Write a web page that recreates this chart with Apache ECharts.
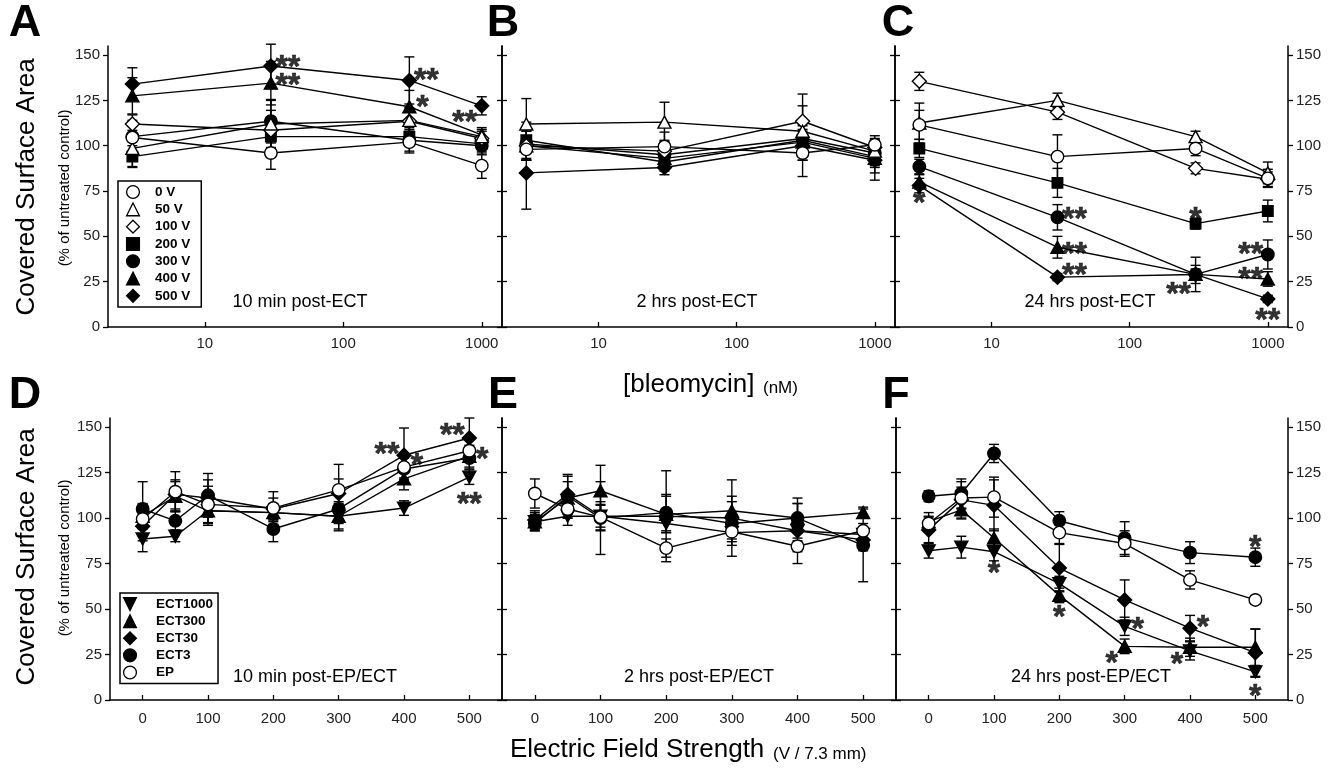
<!DOCTYPE html>
<html><head><meta charset="utf-8">
<script src="https://cdn.jsdelivr.net/npm/echarts@6/dist/echarts.min.js"></script>
<style>html,body{margin:0;padding:0;background:#fff}#c{width:1335px;height:769px}</style>
</head><body><div id="c"></div>
<script>
// ---------- categories / ticks ----------
const concentrations = [3, 30, 300, 1000];          // bleomycin nM
const voltages = [0, 50, 100, 200, 300, 400, 500];   // V / 7.3 mm
const yTicks = [0, 25, 50, 75, 100, 125, 150];
const concTicks = [10, 100, 1000];
const voltTicks = [0, 100, 200, 300, 400, 500];
const topNames = ['0 V', '50 V', '100 V', '200 V', '300 V', '400 V', '500 V'];
const bottomNames = ['ECT1000', 'ECT300', 'ECT30', 'ECT3', 'EP'];

// ---------- Panel A: 10 min post-ECT ----------
const A_0V   = [104.5, 96, 102, 89];
const A_50V  = [98.5, 112, 114, 105];
const A_100V = [112, 108.5, 113.5, 104];
const A_200V = [94, 105, 105, 101];
const A_300V = [105, 113.5, 103, 100];
const A_400V = [127.5, 134.5, 121.5, 106];
const A_500V = [134, 144, 136, 122];
const A_0V_err   = [8, 9, 6, 7];
const A_50V_err  = [10, 13, 7, 4];
const A_100V_err = [5, 11, 6, 4];
const A_200V_err = [6, 7, 5, 4];
const A_300V_err = [9, 12, 6, 5];
const A_400V_err = [10, 12, 9, 4];
const A_500V_err = [9, 12, 13, 5];

// ---------- Panel B: 2 hrs post-ECT ----------
const B_0V   = [98, 99.5, 96, 100.5];
const B_50V  = [112, 113, 108, 97];
const B_100V = [100, 97, 113.5, 99];
const B_200V = [103, 91, 103, 94];
const B_300V = [101, 95, 104, 96];
const B_400V = [100, 93, 102, 93];
const B_500V = [85, 88, 100, 92];
const B_0V_err   = [6, 8, 13, 5];
const B_50V_err  = [14, 11, 14, 6];
const B_100V_err = [8, 6, 15, 5];
const B_200V_err = [10, 5, 8, 6];
const B_300V_err = [9, 7, 9, 7];
const B_400V_err = [8, 5, 10, 8];
const B_500V_err = [20, 4, 8, 11];

// ---------- Panel C: 24 hrs post-ECT ----------
const C_0V   = [111.5, 94, 98.5, 82];
const C_50V  = [112.5, 125, 105, 85];
const C_100V = [135.5, 118.5, 87.5, 81.5];
const C_200V = [98.5, 79.5, 57, 64];
const C_300V = [88.5, 60.5, 29, 40];
const C_400V = [80, 44, 29, 26.5];
const C_500V = [78, 27.5, 29, 15.5];
const C_0V_err   = [8, 12, 4, 5];
const C_50V_err  = [11, 4, 3, 6];
const C_100V_err = [5, 4, 3, 4];
const C_200V_err = [5, 8, 3, 6];
const C_300V_err = [4, 7, 9.5, 8];
const C_400V_err = [4, 6, 5, 4];
const C_500V_err = [4, 2, 3, 2];

// ---------- Panel D: 10 min post-EP/ECT ----------
const D_ECT1000 = [88.5, 90, 104, 103, 101, 105.5, 122.5];
const D_ECT300  = [101, 112, 104, 103, 101, 121.5, 134];
const D_ECT30   = [95.5, 113, 111, 105, 113.5, 134.5, 144];
const D_ECT3    = [105, 98.5, 112.5, 94, 105, 127, 133];
const D_EP      = [99.5, 114.5, 107.5, 105.5, 115.5, 128, 137];
const D_ECT1000_err = [7, 3, 7, 4, 8, 4, 4];
const D_ECT300_err  = [7, 8, 8, 5, 7, 6, 6];
const D_ECT30_err   = [8, 8, 10, 6, 8, 15, 11];
const D_ECT3_err    = [15, 5, 12, 7, 8, 6, 6];
const D_EP_err      = [8, 11, 10, 9, 14, 6, 6];

// ---------- Panel E: 2 hrs post-EP/ECT ----------
const E_ECT1000 = [98, 101, 101, 97, 92, 93, 91];
const E_ECT300  = [98, 111, 115, 102, 104, 100, 103];
const E_ECT30   = [99, 113, 101, 101, 100, 93, 88];
const E_ECT3    = [97, 112, 100, 103, 97, 100, 85];
const E_EP      = [113.5, 105, 100.5, 83.5, 92.5, 84.5, 93];
const E_ECT1000_err = [4, 5, 6, 5, 5, 4, 4];
const E_ECT300_err  = [5, 9, 14, 10, 8, 8, 3];
const E_ECT30_err   = [5, 10, 8, 25, 21, 18, 6];
const E_ECT3_err    = [4, 12, 20, 10, 12, 8, 20];
const E_EP_err      = [8, 5, 7, 5, 4, 3, 4];

// ---------- Panel F: 24 hrs post-EP/ECT ----------
const F_ECT1000 = [82, 84, 81.5, 64, 40.5, 27, 15.5];
const F_ECT300  = [98, 104.5, 89, 57.5, 29.5, 29, 29];
const F_ECT30   = [93.5, 110, 107, 72.5, 55, 39.5, 26];
const F_ECT3    = [112, 113.5, 135.5, 98.5, 89, 81, 78.5];
const F_EP      = [97, 111, 111.5, 92, 86, 66, 55];
const F_ECT1000_err = [4, 6, 5, 4, 5, 5, 3];
const F_ECT300_err  = [5, 5, 5, 4, 4, 5, 10];
const F_ECT30_err   = [7, 10, 14, 13, 11, 7, 13];
const F_ECT3_err    = [3, 8, 5, 5, 9, 6, 5];
const F_EP_err      = [4, 6, 11, 6, 7, 5, 2];

// ---------- significance marks: [x, y, text, side] ----------
const A_marks = [[30, 147, '**', 'r'], [30, 137, '**', 'r'], [300, 140, '**', 'r'], [300, 125, '*', 'r'], [1000, 117, '**', 'l']];
const C_marks = [[3, 72, '*', 'c'], [30, 63.5, '**', 'r'], [30, 44.3, '**', 'r'], [30, 32.5, '**', 'r'], [300, 63.4, '*', 'c'],
                 [300, 22.2, '**', 'l'], [1000, 44.3, '**', 'l'], [1000, 30.5, '**', 'l'], [1000, 7.7, '**', 'c']];
const D_marks = [[400, 138.8, '**', 'l'], [400, 132.8, '*', 'r'], [500, 149.3, '**', 'l'], [500, 136.4, '*', 'r'], [500, 111.7, '**', 'c']];
const F_marks = [[100, 73.3, '*', 'c'], [200, 49.5, '*', 'c'], [300, 43, '*', 'r'], [300, 24.2, '*', 'l'], [400, 44, '*', 'r'],
                 [400, 23.5, '*', 'l'], [500, 88, '*', 'c'], [500, 5.9, '*', 'c']];

// ---------- styles ----------
const FONT = '"Liberation Sans", Arial, Helvetica, sans-serif';
const BLACK = '#000';
const DOWN_TRI = 'path://M0,0L10,0L5,9Z';
const seriesStyle = {
  '0 V':   {symbol: 'circle', size: 12.5, fill: '#fff'},
  '50 V':  {symbol: 'triangle', size: [13, 12], fill: '#fff'},
  '100 V': {symbol: 'diamond', size: 14, fill: '#fff'},
  '200 V': {symbol: 'rect', size: 10.5, fill: BLACK},
  '300 V': {symbol: 'circle', size: 12.5, fill: BLACK},
  '400 V': {symbol: 'triangle', size: [13, 12], fill: BLACK},
  '500 V': {symbol: 'diamond', size: 14, fill: BLACK},
  'ECT1000': {symbol: DOWN_TRI, size: [13, 12], fill: BLACK},
  'ECT300':  {symbol: 'triangle', size: [13, 12], fill: BLACK},
  'ECT30':   {symbol: 'diamond', size: 14, fill: BLACK},
  'ECT3':    {symbol: 'circle', size: 12.5, fill: BLACK},
  'EP':      {symbol: 'circle', size: 12.5, fill: '#fff'}
};

const panels = [
  {grid: 0, yIndex: 0, xs: concentrations, names: topNames,
   means: [A_0V, A_50V, A_100V, A_200V, A_300V, A_400V, A_500V],
   errs: [A_0V_err, A_50V_err, A_100V_err, A_200V_err, A_300V_err, A_400V_err, A_500V_err], marks: A_marks, reverse: true},
  {grid: 1, yIndex: 1, xs: concentrations, names: topNames,
   means: [B_0V, B_50V, B_100V, B_200V, B_300V, B_400V, B_500V],
   errs: [B_0V_err, B_50V_err, B_100V_err, B_200V_err, B_300V_err, B_400V_err, B_500V_err], marks: [], reverse: true},
  {grid: 2, yIndex: 3, xs: concentrations, names: topNames,
   means: [C_0V, C_50V, C_100V, C_200V, C_300V, C_400V, C_500V],
   errs: [C_0V_err, C_50V_err, C_100V_err, C_200V_err, C_300V_err, C_400V_err, C_500V_err], marks: C_marks, reverse: true},
  {grid: 3, yIndex: 6, xs: voltages, names: bottomNames,
   means: [D_ECT1000, D_ECT300, D_ECT30, D_ECT3, D_EP],
   errs: [D_ECT1000_err, D_ECT300_err, D_ECT30_err, D_ECT3_err, D_EP_err], marks: D_marks, reverse: false},
  {grid: 4, yIndex: 7, xs: voltages, names: bottomNames,
   means: [E_ECT1000, E_ECT300, E_ECT30, E_ECT3, E_EP],
   errs: [E_ECT1000_err, E_ECT300_err, E_ECT30_err, E_ECT3_err, E_EP_err], marks: [], reverse: false},
  {grid: 5, yIndex: 9, xs: voltages, names: bottomNames,
   means: [F_ECT1000, F_ECT300, F_ECT30, F_ECT3, F_EP],
   errs: [F_ECT1000_err, F_ECT300_err, F_ECT30_err, F_ECT3_err, F_EP_err], marks: F_marks, reverse: false}
];

// ---------- layout ----------
const grids = [
  {left: 108, top: 46, width: 394, height: 281},
  {left: 502, top: 46, width: 393, height: 281},
  {left: 895, top: 46, width: 393, height: 281},
  {left: 110, top: 418, width: 392, height: 282},
  {left: 502, top: 418, width: 394, height: 282},
  {left: 896, top: 418, width: 392, height: 282}
];

const axisLineStyle = {color: BLACK, width: 1.5};
const tickLineStyle = {color: BLACK, width: 1.3};
const labelStyle = {fontSize: 15, color: '#222', fontFamily: FONT};

function xAxisFor(gridIndex, isLog) {
  const ticks = isLog ? concTicks : voltTicks;
  const ax = {
    gridIndex: gridIndex,
    axisLine: {show: true, onZero: false, lineStyle: axisLineStyle},
    axisTick: {show: true, inside: true, length: 5, customValues: ticks, lineStyle: tickLineStyle},
    axisLabel: Object.assign({show: true, customValues: ticks, margin: isLog ? 9 : 11,
                              formatter: v => String(Math.round(v))}, labelStyle),
    splitLine: {show: false},
    minorTick: {show: false}
  };
  if (isLog) { ax.type = 'log'; ax.logBase = 10; ax.min = 2; ax.max = 1400; }
  else { ax.type = 'value'; ax.min = -50; ax.max = 550; }
  return ax;
}
function yAxisFor(gridIndex, position, tickInside, showLabels) {
  return {
    type: 'value', gridIndex: gridIndex, position: position, min: 0, max: 155,
    axisLine: {show: true, onZero: false, lineStyle: axisLineStyle},
    axisTick: {show: true, inside: tickInside, length: 5, customValues: yTicks, lineStyle: tickLineStyle},
    axisLabel: Object.assign({show: showLabels, customValues: yTicks, margin: 8}, labelStyle),
    splitLine: {show: false}
  };
}

const xAxes = [0, 1, 2].map(g => xAxisFor(g, true)).concat([3, 4, 5].map(g => xAxisFor(g, false)));
const yAxes = [
  yAxisFor(0, 'left', false, true),                                   // 0 A
  yAxisFor(1, 'left', true, false), yAxisFor(1, 'left', false, false), // 1,2 B
  yAxisFor(2, 'left', true, false), yAxisFor(2, 'left', false, false), // 3,4 C
  yAxisFor(2, 'right', false, true),                                   // 5 C right
  yAxisFor(3, 'left', false, true),                                    // 6 D
  yAxisFor(4, 'left', true, false), yAxisFor(4, 'left', false, false), // 7,8 E
  yAxisFor(5, 'left', true, false), yAxisFor(5, 'left', false, false), // 9,10 F
  yAxisFor(5, 'right', false, true)                                    // 11 F right
];

// ---------- series ----------
const series = [];
function errorBarRender(params, api) {
  const x = api.value(0);
  const lo = api.coord([x, api.value(1)]);
  const hi = api.coord([x, api.value(2)]);
  const w = 5;
  const st = {stroke: BLACK, lineWidth: 1.4};
  return {type: 'group', children: [
    {type: 'line', shape: {x1: lo[0], y1: lo[1], x2: hi[0], y2: hi[1]}, style: st},
    {type: 'line', shape: {x1: lo[0] - w, y1: lo[1], x2: lo[0] + w, y2: lo[1]}, style: st},
    {type: 'line', shape: {x1: hi[0] - w, y1: hi[1], x2: hi[0] + w, y2: hi[1]}, style: st}
  ]};
}
const sideOffset = {r: 1, l: -1, c: 0};

panels.forEach(p => {
  const errData = [];
  p.names.forEach((n, si) => {
    p.xs.forEach((x, i) => errData.push([x, p.means[si][i] - p.errs[si][i], p.means[si][i] + p.errs[si][i]]));
  });
  series.push({
    type: 'custom', silent: true, xAxisIndex: p.grid, yAxisIndex: p.yIndex, z: 2,
    encode: {x: 0, y: [1, 2]}, data: errData, renderItem: errorBarRender, clip: false
  });
  const order = p.names.map((n, i) => i);
  if (p.reverse) order.reverse();
  order.forEach(si => {
    const n = p.names[si];
    const st = seriesStyle[n];
    series.push({
      type: 'line', name: n, xAxisIndex: p.grid, yAxisIndex: p.yIndex, z: 3,
      data: p.xs.map((x, i) => [x, p.means[si][i]]),
      symbol: st.symbol, symbolSize: st.size, showSymbol: true, showAllSymbol: true,
      itemStyle: {color: st.fill, borderColor: BLACK, borderWidth: 1.4},
      lineStyle: {color: BLACK, width: 1.4},
      emphasis: {disabled: true}, silent: true
    });
  });
  if (p.marks.length) {
    series.push({
      type: 'scatter', xAxisIndex: p.grid, yAxisIndex: p.yIndex, z: 5, silent: true,
      symbolSize: 1, itemStyle: {color: 'rgba(0,0,0,0)'},
      label: {show: true, position: 'inside', formatter: q => q.name,
              fontSize: 32, fontWeight: 'bold', fontFamily: FONT, color: BLACK,
              textBorderWidth: 0.6, textBorderColor: BLACK},
      data: p.marks.map(m => ({name: m[2], value: [m[0], m[1]],
        label: {offset: [sideOffset[m[3]] * (m[2].length > 1 ? 17 : 13), 8]}}))
    });
  }
});

// ---------- text ----------
function txt(x, y, text, font, align, rot) {
  return {type: 'text', x: x, y: y, rotation: rot || 0, silent: true,
    style: {text: text, font: font, fill: BLACK, textAlign: align || 'center', textVerticalAlign: 'middle'}};
}
const letterFont = 'bold 45px ' + FONT;
const capFont = '18px ' + FONT;
const graphic = [
  txt(25, 24, 'A', letterFont), txt(503, 24, 'B', letterFont), txt(898, 24, 'C', letterFont),
  txt(25, 396, 'D', letterFont), txt(503, 396, 'E', letterFont), txt(896, 396, 'F', letterFont),
  txt(27, 187, 'Covered Surface Area', '26px ' + FONT, 'center', Math.PI / 2),
  txt(65, 188, '(% of untreated control)', '15px ' + FONT, 'center', Math.PI / 2),
  txt(27, 557, 'Covered Surface Area', '26px ' + FONT, 'center', Math.PI / 2),
  txt(65, 558, '(% of untreated control)', '15px ' + FONT, 'center', Math.PI / 2),
  txt(300, 302, '10 min post-ECT', capFont), txt(697, 302, '2 hrs post-ECT', capFont), txt(1090, 302, '24 hrs post-ECT', capFont),
  txt(315, 677, '10 min post-EP/ECT', capFont), txt(699, 677, '2 hrs post-EP/ECT', capFont), txt(1091, 677, '24 hrs post-EP/ECT', capFont),
  txt(623, 385, '[bleomycin]', '26px ' + FONT, 'left'), txt(763, 388, '(nM)', '17px ' + FONT, 'left'),
  txt(510, 750, 'Electric Field Strength', '26px ' + FONT, 'left'), txt(773, 754, '(V / 7.3 mm)', '17px ' + FONT, 'left')
];

const legendCommon = {
  orient: 'vertical', itemWidth: 20, itemHeight: 16, selectedMode: false,
  borderColor: BLACK, borderWidth: 1.5, backgroundColor: '#fff', borderRadius: 0,
  lineStyle: {opacity: 0, width: 0},
  itemStyle: {borderColor: BLACK, borderWidth: 1.3}
};
const legends = [
  Object.assign({}, legendCommon, {data: topNames, left: 118, top: 181, itemGap: 3.2, padding: [4, 11, 4, 5],
    textStyle: {fontFamily: FONT, fontSize: 13.5, fontWeight: 'bold', color: BLACK, padding: [0, 0, 0, 7]}}),
  Object.assign({}, legendCommon, {data: bottomNames, left: 120, top: 593, itemGap: 3, padding: [4, 5, 4, 0],
    textStyle: {fontFamily: FONT, fontSize: 13.5, fontWeight: 'bold', color: BLACK, padding: [0, 0, 0, 11]}})
];

const chart = echarts.init(document.getElementById('c'), null, {renderer: 'canvas'});
chart.setOption({
  animation: false,
  backgroundColor: '#fff',
  textStyle: {fontFamily: FONT},
  grid: grids,
  xAxis: xAxes,
  yAxis: yAxes,
  legend: legends,
  series: series,
  graphic: graphic
});
</script>
</body></html>
